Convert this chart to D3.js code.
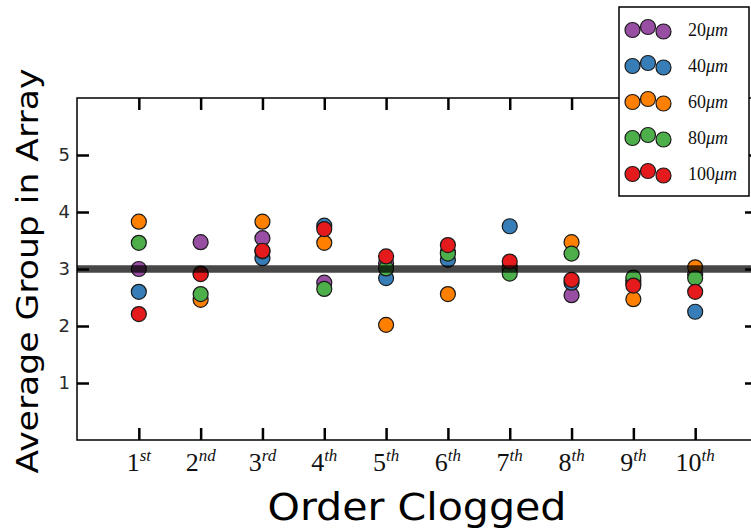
<!DOCTYPE html>
<html>
<head>
<meta charset="utf-8">
<script src="https://cdn.jsdelivr.net/npm/d3@7"></script>
<style>
  html, body { margin: 0; padding: 0; background: #fff; }
  svg { display: block; }
</style>
</head>
<body>
<svg id="chart" width="751" height="531"></svg>
<script>
// Clog order positions and their ordinal labels
const orders = [1, 2, 3, 4, 5, 6, 7, 8, 9, 10];
const orderNums = ["1", "2", "3", "4", "5", "6", "7", "8", "9", "10"];
const orderSuffix = ["st", "nd", "rd", "th", "th", "th", "th", "th", "th", "th"];

// Average group in the array, one list per particle size
const series20 = [3.00, 3.47, 3.54, 2.76, 3.10, 3.30, 3.05, 2.54, 2.80, 2.90];
const series40 = [2.60, 2.92, 3.19, 3.76, 2.84, 3.16, 3.75, 2.76, 2.75, 2.25];
const series60 = [3.83, 2.46, 3.83, 3.46, 2.02, 2.56, 3.00, 3.47, 2.47, 3.03];
const series80 = [3.46, 2.56, 3.31, 2.65, 3.01, 3.27, 2.92, 3.27, 2.85, 2.84];
const series100 = [2.21, 2.91, 3.32, 3.70, 3.22, 3.42, 3.13, 2.81, 2.71, 2.60];

const sizeLabels = ["20", "40", "60", "80", "100"];
const sizeColors = ["#984ea3", "#377eb8", "#ff7f00", "#4daf4a", "#e41a1c"];
const allSeries = [series20, series40, series60, series80, series100];

const yTicks = [1, 2, 3, 4, 5];
const referenceLevel = 3;

const svg = d3.select("#chart");
const plot = { left: 77, right: 757, top: 98, bottom: 440 };

const x = d3.scaleLinear().domain([0, 11]).range([plot.left, plot.right]);
const y = d3.scaleLinear().domain([0, 6]).range([plot.bottom, plot.top]);

// Frame
svg.append("rect")
  .attr("x", plot.left).attr("y", plot.top)
  .attr("width", plot.right - plot.left).attr("height", plot.bottom - plot.top)
  .attr("fill", "none").attr("stroke", "#000").attr("stroke-width", 1.5);

// Inward ticks on all four sides
function styleAxis(g) {
  g.select(".domain").remove();
  g.selectAll(".tick line").attr("stroke", "#000").attr("stroke-width", 2.5);
}
svg.append("g").attr("transform", `translate(${plot.left},0)`)
  .call(d3.axisLeft(y).tickValues(yTicks).tickSize(-12).tickPadding(7).tickFormat(d3.format("d")))
  .call(styleAxis)
  .call(g => g.selectAll(".tick text")
    .attr("font-family", "DejaVu Sans").attr("font-size", 18).attr("fill", "#2a2a2a"));
svg.append("g").attr("transform", `translate(${plot.right},0)`)
  .call(d3.axisRight(y).tickValues(yTicks).tickSize(-12).tickFormat(""))
  .call(styleAxis);
svg.append("g").attr("transform", `translate(0,${plot.top})`)
  .call(d3.axisTop(x).tickValues(orders).tickSize(-12).tickFormat(""))
  .call(styleAxis);
svg.append("g").attr("transform", `translate(0,${plot.bottom})`)
  .call(d3.axisBottom(x).tickValues(orders).tickSize(-12).tickFormat(""))
  .call(styleAxis);

// Ordinal tick labels with superscript suffixes
const xLabels = svg.append("g");
orders.forEach((o, i) => {
  const t = xLabels.append("text")
    .attr("x", x(o)).attr("y", 471)
    .attr("text-anchor", "middle")
    .attr("font-family", "Liberation Serif, DejaVu Serif, serif")
    .attr("font-size", 26).attr("fill", "#111");
  t.append("tspan").text(orderNums[i]);
  t.append("tspan").attr("dy", -10).attr("font-size", 17).attr("font-style", "italic").text(orderSuffix[i]);
});

// Data points, drawn size by size
allSeries.forEach((vals, s) => {
  svg.append("g").selectAll("circle")
    .data(vals)
    .join("circle")
    .attr("cx", (d, i) => x(orders[i]))
    .attr("cy", d => y(d))
    .attr("r", 7.5)
    .attr("fill", sizeColors[s])
    .attr("stroke", "#1a1a1a")
    .attr("stroke-width", 1.2);
});

// Reference line at group 3
svg.append("line")
  .attr("x1", plot.left).attr("x2", plot.right)
  .attr("y1", y(referenceLevel)).attr("y2", y(referenceLevel))
  .attr("stroke", "#000").attr("stroke-opacity", 0.72).attr("stroke-width", 7.5);

// Axis titles
svg.append("text")
  .attr("x", 417).attr("y", 520)
  .attr("text-anchor", "middle")
  .attr("font-family", "DejaVu Sans").attr("font-size", 37)
  .attr("textLength", 299).attr("lengthAdjust", "spacingAndGlyphs")
  .attr("fill", "#000")
  .text("Order Clogged");
svg.append("text")
  .attr("transform", "translate(38,271) rotate(-90)")
  .attr("text-anchor", "middle")
  .attr("font-family", "DejaVu Sans").attr("font-size", 31)
  .attr("textLength", 405).attr("lengthAdjust", "spacingAndGlyphs")
  .attr("fill", "#000")
  .text("Average Group in Array");

// Legend
const legend = svg.append("g");
legend.append("rect")
  .attr("x", 619).attr("y", 7).attr("width", 130).attr("height", 189)
  .attr("fill", "#fff").attr("stroke", "#000").attr("stroke-width", 1.5);
const markerDx = [632.5, 648, 663.5];
const markerDy = [0, -3, 1.5];
sizeLabels.forEach((lab, i) => {
  const rowY = 30 + i * 36;
  markerDx.forEach((mx, k) => {
    legend.append("circle")
      .attr("cx", mx).attr("cy", rowY + markerDy[k]).attr("r", 7.5)
      .attr("fill", sizeColors[i]).attr("stroke", "#1a1a1a").attr("stroke-width", 1.2);
  });
  const t = legend.append("text")
    .attr("x", 688).attr("y", rowY + 6)
    .attr("font-family", "Liberation Serif, DejaVu Serif, serif")
    .attr("font-size", 18).attr("fill", "#111");
  t.append("tspan").text(lab);
  t.append("tspan").attr("font-style", "italic").text("\u03bcm");
});
</script>
</body>
</html>
